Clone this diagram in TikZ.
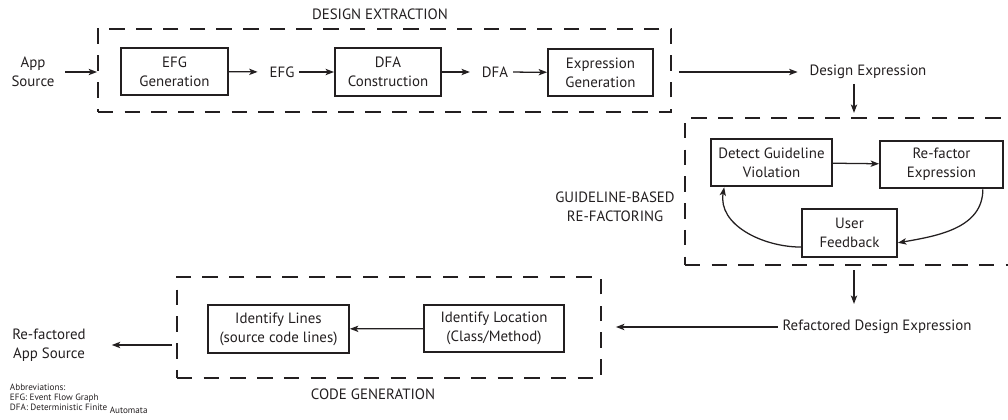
\documentclass[tikz,border=0pt]{standalone}
\usepackage{fontspec}
\setmainfont{PT Sans}
\usetikzlibrary{arrows.meta}
\definecolor{ink}{RGB}{35,31,32}
\begin{document}
\begin{tikzpicture}
    [x=0.025cm, y=-0.025cm,
    every node/.style={text=ink, font=\fontsize{10.6}{13.5}\selectfont, align=center},
    box/.style={draw=ink, line width=1.3pt, inner sep=2pt, minimum height=34pt},
    stage/.style={draw=ink, line width=1.2pt, dash pattern=on 11pt off 8pt},
    arr/.style={draw=ink, line width=0.9pt, -{Stealth[length=6pt,width=4.5pt,inset=1.5pt]}},
    abbr/.style={font=\fontsize{6.5}{7.1}\selectfont, align=left}]
    \clip (0,0) rectangle (1008,420);
    \node[stage, minimum width=407.6pt, minimum height=59pt] (de) at (384.5,70.5) {};
    \node (delbl) at (380,14) {DESIGN EXTRACTION};
    \node (src) at (33,72) {App\\Source};
    \node[box, minimum width=76pt] (efgg) at (174.5,71.5) {EFG\\Generation};
    \node (efg) at (282,72) {EFG};
    \node[box, minimum width=75.5pt] (dfac) at (388,72) {DFA\\Construction};
    \node (dfa) at (495,72) {DFA};
    \node[box, minimum width=74.7pt] (expg) at (600.5,72.5) {Expression\\Generation};
    \node (dexp) at (868,72) {Design Expression};
    \node[stage, minimum width=240.4pt, minimum height=104.6pt] (gr) at (854,191.5) {};
    \node (grlbl) at (615,207) {GUIDELINE-BASED\\RE-FACTORING};
    \node[box, minimum width=86pt] (detect) at (771.5,162.5) {Detect Guideline\\Violation};
    \node[box, minimum width=87.5pt] (refac) at (941.5,164.5) {Re-factor\\Expression};
    \node[box, minimum width=67.5pt] (fb) at (849.5,233) {User\\Feedback};
    \node (rde) at (877,327) {Refactored Design Expression};
    \node[stage, minimum width=301.6pt, minimum height=71.8pt] (cg) at (389,327.5) {};
    \node (cglbl) at (373,394) {CODE GENERATION};
    \node[box, minimum width=99.6pt] (iloc) at (494,328.5) {Identify Location\\(Class/Method)};
    \node[box, minimum width=100.3pt] (ilines) at (278.5,329) {Identify Lines\\(source code lines)};
    \node (rsrc) at (49,345) {Re-factored\\App Source};
    \node[abbr, anchor=west] (abbrev) at (5,399) {Abbreviations:\\EFG: Event Flow Graph\\DFA: Deterministic Finite \raisebox{-2pt}{Automata}};

    \draw[arr, shorten <=4pt] (src.east) -- (src.east -| de.west);
    \draw[arr, shorten >=5pt] (efgg) -- (efg);
    \draw[arr] (efg) -- (dfac);
    \draw[arr, shorten >=5pt] (dfac) -- (dfa);
    \draw[arr] (dfa) -- (expg);
    \draw[arr, shorten <=5pt, shorten >=5pt] (de.east |- dexp) -- (dexp);
    \draw[arr, shorten >=3pt] (dexp.south -| gr.north) -- (gr.north);
    \draw[arr] (detect) -- (refac);
    \draw[arr] ([xshift=-15pt]refac.south east) to[out=-90,in=10] ([yshift=-7pt]fb.east);
    \draw[arr] ([yshift=-10pt]fb.west) to[out=180,in=-100] ([xshift=10pt]detect.south west);
    \draw[arr, shorten <=3pt, shorten >=8pt] (gr.south) -- (gr.south |- rde.north);
    \draw[arr, shorten >=10pt] (rde) -- (rde -| cg.east);
    \draw[arr] (iloc) -- (ilines);
    \draw[arr, shorten <=3pt, shorten >=15pt] (cg.west |- rsrc) -- (rsrc.east);
\end{tikzpicture}
\end{document}
